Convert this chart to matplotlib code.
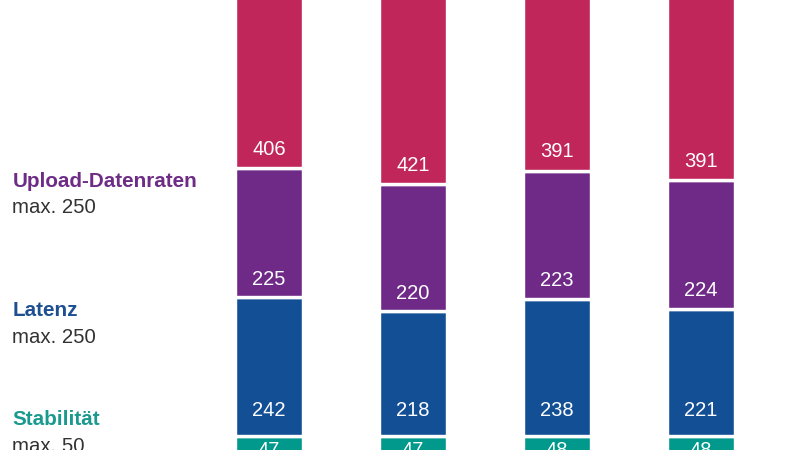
import matplotlib
matplotlib.use("Agg")
import matplotlib.pyplot as plt
import numpy as np

plt.rcParams['font.family'] = ['Liberation Sans', 'DejaVu Sans']

# ---- data ----
categories = ["Anbieter 1", "Anbieter 2", "Anbieter 3", "Anbieter 4"]
series_names = ["Stabilität", "Latenz", "Upload-Datenraten", "Download-Datenraten"]
series_max = ["max. 50", "max. 250", "max. 250", "max. 450"]
stabilitaet = [47, 47, 48, 48]
latenz = [242, 218, 238, 221]
upload = [225, 220, 223, 224]
download = [406, 421, 391, 391]

# ---- style ----
colors = ["#00998C", "#134F94", "#6E2A86", "#C1265A"]
label_colors = ["#1A9A8E", "#1E4F91", "#6E2C86", "#C1265A"]
label_offsets_pt = [5.5, 14.3, 8.9, 9.5]  # baseline offset above segment bottom

fig = plt.figure(figsize=(8, 4.5), dpi=100)
ax = fig.add_axes([0, 0, 1, 1])
ax.set_axis_off()

x = np.arange(len(categories))
series = [stabilitaet, latenz, upload, download]
bottom = np.zeros(len(categories))
for vals, col, off in zip(series, colors, label_offsets_pt):
    vals = np.array(vals, dtype=float)
    ax.bar(x, vals, bottom=bottom, width=0.468, color=col,
           edgecolor="white", linewidth=2.45)
    for xi, b, v in zip(x, bottom, vals):
        ax.annotate(f"{int(v)}", xy=(xi, b), xytext=(0, off),
                    textcoords="offset points", ha="center", va="baseline",
                    color="white", fontsize=14.5, annotation_clip=False)
    bottom = bottom + vals

ax.set_xlim(-269 / 144, (800 - 269) / 144)
ax.set_ylim(23.1, 805.7)

# left-side legend labels (name + max), positioned in figure pixels
left_labels = [
    (series_names[2], series_max[2], label_colors[2], 186.7),
    (series_names[1], series_max[1], label_colors[1], 316.0),
    (series_names[0], series_max[0], label_colors[0], 425.0),
]
for name, mx, col, base in left_labels:
    fig.text(12.5 / 800, 1 - base / 450, name, color=col, fontsize=14.9,
             fontweight="bold", ha="left", va="baseline")
    fig.text(12.5 / 800, 1 - (base + 26.7) / 450, mx, color="#333333",
             fontsize=14.7, ha="left", va="baseline")

fig.savefig("out.png", dpi=100)
